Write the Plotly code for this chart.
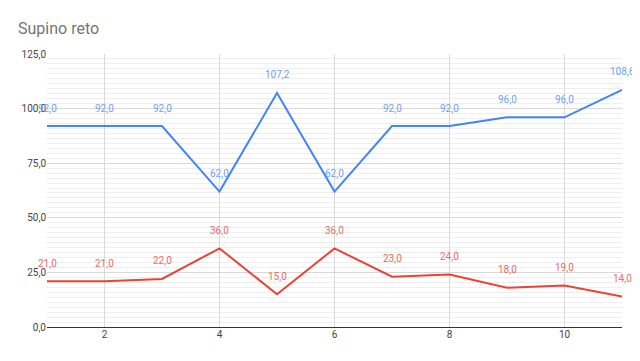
import plotly.graph_objects as go

x_vals = [1, 2, 3, 4, 5, 6, 7, 8, 9, 10, 11]
blue_vals = [92.0, 92.0, 92.0, 62.0, 107.2, 62.0, 92.0, 92.0, 96.0, 96.0, 108.6]
red_vals = [21.0, 21.0, 22.0, 36.0, 15.0, 36.0, 23.0, 24.0, 18.0, 19.0, 14.0]
title_text = "Supino reto"

BLUE = "#4285F4"
RED = "#EA4335"

fig = go.Figure()
fig.add_trace(go.Scatter(x=x_vals, y=blue_vals, mode="lines",
                         line=dict(color=BLUE, width=2), showlegend=False, cliponaxis=False))
fig.add_trace(go.Scatter(x=x_vals, y=red_vals, mode="lines",
                         line=dict(color=RED, width=2), showlegend=False, cliponaxis=False))

def fmt(v):
    return f"{v:.1f}".replace(".", ",")

for xs, ys, col in [(x_vals, blue_vals, "#6fa2f7"), (x_vals, red_vals, "#ef6b5f")]:
    for xv, yv in zip(xs, ys):
        fig.add_annotation(x=xv, y=yv, text=fmt(yv), showarrow=False,
                           yshift=18, font=dict(family="Roboto", size=10, color=col))

# page has an 8px body margin, so the figure is sized/offset to compensate
fig.update_layout(
    width=632, height=353,
    margin=dict(l=39, r=18, t=46, b=34, autoexpand=False),
    plot_bgcolor="white", paper_bgcolor="white",
    separators=",.",
    title=dict(text=title_text, x=10/632, xanchor="left", yref="container",
               y=0.943, yanchor="middle",
               font=dict(family="Roboto", size=16, color="#757575")),
    font=dict(family="Roboto", size=10, color="#444444"),
)
fig.update_xaxes(range=[1, 11], tickvals=[2, 4, 6, 8, 10], showgrid=True, automargin=False,
                 gridcolor="#d9d9d9", gridwidth=1, zeroline=False, showline=False,
                 ticks="", tickfont=dict(size=10, color="#444444"))
fig.update_yaxes(range=[0, 125], tick0=0, dtick=25, tickformat=".1f", automargin=False,
                 showgrid=True, gridcolor="#d9d9d9", gridwidth=1,
                 zeroline=True, zerolinecolor="#333333", zerolinewidth=1,
                 showline=False, ticks="", tickfont=dict(size=10, color="#444444"),
                 minor=dict(tick0=0, dtick=25/11, showgrid=True, gridcolor="#eeeeee", gridwidth=1))

fig.write_html("out.html")
